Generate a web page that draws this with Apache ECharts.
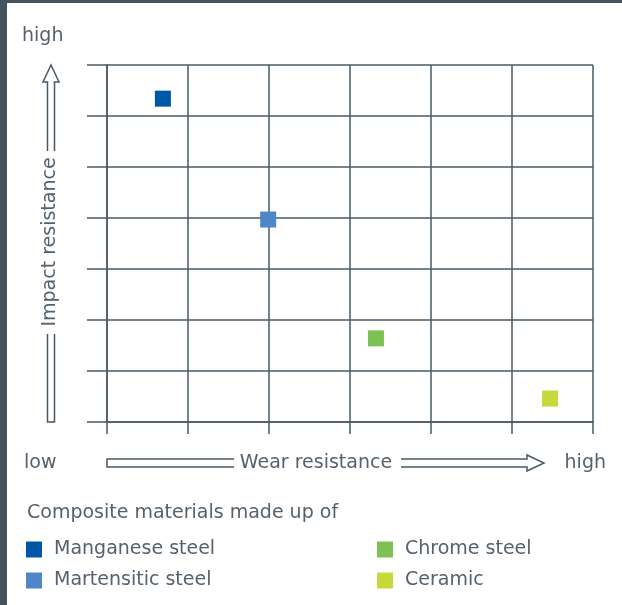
<!DOCTYPE html>
<html>
<head>
<meta charset="utf-8">
<script src="https://cdn.jsdelivr.net/npm/echarts@6/dist/echarts.min.js"></script>
<style>
  html, body { margin: 0; padding: 0; background: #ffffff; }
  #chart { width: 622px; height: 605px; }
</style>
</head>
<body>
<div id="chart"></div>
<script>
const materials = ['Manganese steel', 'Martensitic steel', 'Chrome steel', 'Ceramic'];
const wearValues = [0.69, 1.99, 3.32, 5.47];
const impactValues = [6.34, 3.97, 1.64, 0.46];
const materialColors = ['#0057a8', '#4d87c7', '#7cc152', '#c6d83b'];
const xTickCount = 6;
const yTickCount = 7;
const legendTitle = 'Composite materials made up of';
const xAxisName = 'Wear resistance';
const yAxisName = 'Impact resistance';
const lowLabel = 'low';
const highLabel = 'high';

const TEXT = '#55626d';
const LINE = '#4a5a64';
const FONT = '"DejaVu Sans"';
const FS = 19;
const FW = 'normal';
const FONTSTR = FW + ' ' + FS + 'px ' + FONT;

const chart = echarts.init(document.getElementById('chart'), null, { renderer: 'canvas' });

const series = materials.map((name, i) => ({
  name: name,
  type: 'scatter',
  symbol: 'rect',
  symbolSize: 16,
  itemStyle: { color: materialColors[i], opacity: 1 },
  emphasis: { disabled: true },
  data: [[wearValues[i], impactValues[i]]]
}));

const legendCommon = {
  orient: 'vertical',
  top: 540,
  padding: 0,
  itemWidth: 16,
  itemHeight: 16,
  itemGap: 12,
  icon: 'rect',
  selectedMode: false,
  textStyle: { color: TEXT, fontSize: FS, fontWeight: FW, fontFamily: 'DejaVu Sans', lineHeight: 16, padding: [0, 0, 0, 7] }
};

const option = {
  animation: false,
  backgroundColor: '#ffffff',
  grid: { left: 107, top: 65, width: 486, height: 357, containLabel: false },
  xAxis: {
    type: 'value', min: 0, max: xTickCount, interval: 1,
    axisLine: { show: true, onZero: false, lineStyle: { color: LINE, width: 1.5 } },
    axisTick: { show: true, length: 12, lineStyle: { color: LINE, width: 1.5 } },
    axisLabel: { show: false },
    splitLine: { show: true, lineStyle: { color: LINE, width: 1.5 } }
  },
  yAxis: {
    type: 'value', min: 0, max: yTickCount, interval: 1,
    axisLine: { show: true, onZero: false, lineStyle: { color: LINE, width: 1.5 } },
    axisTick: { show: true, length: 20, lineStyle: { color: LINE, width: 1.5 } },
    axisLabel: { show: false },
    splitLine: { show: true, lineStyle: { color: LINE, width: 1.5 } }
  },
  legend: [
    Object.assign({}, legendCommon, { left: 26, data: materials.slice(0, 2) }),
    Object.assign({}, legendCommon, { left: 377, data: materials.slice(2, 4) })
  ],
  graphic: [
    { type: 'rect', shape: { x: 0, y: 0, width: 622, height: 3 }, style: { fill: '#42535d' }, silent: true },
    { type: 'rect', shape: { x: 0, y: 0, width: 7, height: 605 }, style: { fill: '#42535d' }, silent: true },
    { type: 'text', x: 22, y: 36, style: { text: highLabel, fill: TEXT, font: FONTSTR, textAlign: 'left', textVerticalAlign: 'middle' } },
    { type: 'text', x: 24, y: 463, style: { text: lowLabel, fill: TEXT, font: FONTSTR, textAlign: 'left', textVerticalAlign: 'middle' } },
    { type: 'text', x: 606, y: 463, style: { text: highLabel, fill: TEXT, font: FONTSTR, textAlign: 'right', textVerticalAlign: 'middle' } },
    { type: 'text', x: 316, y: 463, style: { text: xAxisName, fill: TEXT, font: FONTSTR, textAlign: 'center', textVerticalAlign: 'middle' } },
    { type: 'text', x: 50, y: 242, rotation: Math.PI / 2, style: { text: yAxisName, fill: TEXT, font: FONTSTR, textAlign: 'center', textVerticalAlign: 'middle' } },
    { type: 'text', x: 27, y: 513, style: { text: legendTitle, fill: TEXT, font: FONTSTR, textAlign: 'left', textVerticalAlign: 'middle' } },
    { type: 'polyline', shape: { points: [[47.5, 151], [47.5, 82], [43, 82], [51, 65], [59, 82], [54.5, 82], [54.5, 151]] }, style: { stroke: LINE, lineWidth: 1.5, fill: null }, silent: true },
    { type: 'polyline', shape: { points: [[47.5, 334], [47.5, 422], [54.5, 422], [54.5, 334]] }, style: { stroke: LINE, lineWidth: 1.5, fill: null }, silent: true },
    { type: 'polyline', shape: { points: [[234, 459], [107, 459], [107, 467], [234, 467]] }, style: { stroke: LINE, lineWidth: 1.5, fill: null }, silent: true },
    { type: 'polyline', shape: { points: [[401, 459], [527, 459], [527, 455], [544, 463], [527, 471], [527, 467], [401, 467]] }, style: { stroke: LINE, lineWidth: 1.5, fill: null }, silent: true }
  ],
  series: series
};

chart.setOption(option);
</script>
</body>
</html>
